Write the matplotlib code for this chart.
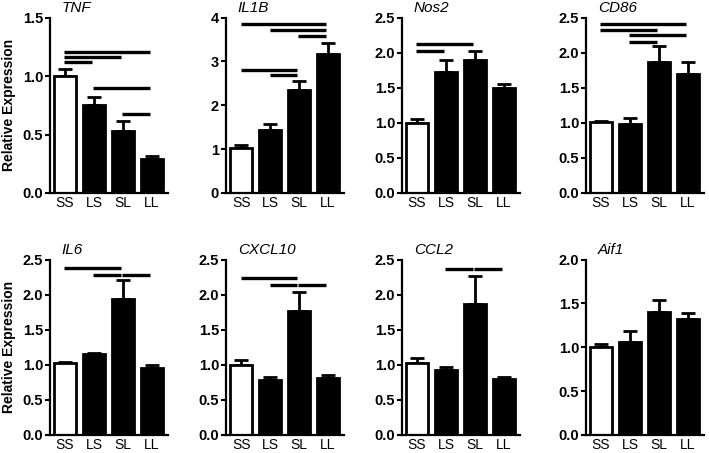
import matplotlib
matplotlib.use('Agg')
import matplotlib.pyplot as plt
import numpy

plt.rcParams['font.family'] = ['Liberation Sans', 'DejaVu Sans']

groups = ['SS', 'LS', 'SL', 'LL']
genes = ['TNF', 'IL1B', 'Nos2', 'CD86', 'IL6', 'CXCL10', 'CCL2', 'Aif1']

tnf_mean = [1.0, 0.75, 0.534, 0.294]
tnf_err = [0.06, 0.075, 0.086, 0.023]
il1b_mean = [1.03, 1.44, 2.34, 3.16]
il1b_err = [0.06, 0.14, 0.22, 0.27]
nos2_mean = [1.0, 1.72, 1.89, 1.49]
nos2_err = [0.05, 0.17, 0.13, 0.07]
cd86_mean = [1.01, 0.99, 1.87, 1.69]
cd86_err = [0.02, 0.08, 0.22, 0.18]
il6_mean = [1.02, 1.15, 1.94, 0.95]
il6_err = [0.02, 0.02, 0.27, 0.04]
cxcl10_mean = [1.0, 0.78, 1.76, 0.81]
cxcl10_err = [0.07, 0.04, 0.28, 0.05]
ccl2_mean = [1.02, 0.925, 1.86, 0.79]
ccl2_err = [0.08, 0.045, 0.41, 0.04]
aif1_mean = [1.0, 1.06, 1.40, 1.32]
aif1_err = [0.04, 0.12, 0.14, 0.065]

# significance bars: (from group, to group, height)
tnf_sig = [(0, 3, 1.206), (0, 2, 1.16), (0, 1, 1.117), (1, 3, 0.9), (2, 3, 0.674)]
il1b_sig = [(0, 3, 3.85), (1, 3, 3.71), (2, 3, 3.58), (0, 2, 2.81), (1, 2, 2.69)]
nos2_sig = [(0, 2, 2.13), (0, 1, 2.02)]
cd86_sig = [(0, 3, 2.41), (0, 2, 2.33), (1, 3, 2.25), (1, 2, 2.16)]
il6_sig = [(0, 2, 2.38), (1, 2, 2.28), (2, 3, 2.28)]
cxcl10_sig = [(0, 2, 2.24), (1, 2, 2.14), (2, 3, 2.14)]
ccl2_sig = [(1, 2, 2.36), (2, 3, 2.36)]
aif1_sig = []

means = [tnf_mean, il1b_mean, nos2_mean, cd86_mean, il6_mean, cxcl10_mean, ccl2_mean, aif1_mean]
errs = [tnf_err, il1b_err, nos2_err, cd86_err, il6_err, cxcl10_err, ccl2_err, aif1_err]
sigs = [tnf_sig, il1b_sig, nos2_sig, cd86_sig, il6_sig, cxcl10_sig, ccl2_sig, aif1_sig]
y_max = [1.5, 4, 2.5, 2.5, 2.5, 2.5, 2.5, 2.0]
y_step = [0.5, 1, 0.5, 0.5, 0.5, 0.5, 0.5, 0.5]

fig = plt.figure(figsize=(7.09, 4.53), dpi=100)
lefts = [0.0705, 0.3188, 0.567, 0.8265]
bottoms = [0.574, 0.040]
w = 0.1664
h = 0.387

x = numpy.arange(len(groups))
for k, gene in enumerate(genes):
    row = k // 4
    col = k % 4
    ax = fig.add_axes([lefts[col], bottoms[row], w, h])
    colors = ['white', 'black', 'black', 'black']
    ax.bar(x, means[k], width=0.76, color=colors, edgecolor='black', linewidth=2, zorder=2)
    ax.errorbar(x, means[k], yerr=[numpy.zeros(4), errs[k]], fmt='none', ecolor='black',
                elinewidth=2, capsize=5, capthick=2, zorder=1)
    for a, b, yy in sigs[k]:
        ax.plot([a - 0.02, b - 0.06], [yy, yy], color='black', lw=2.4, solid_capstyle='butt',
                clip_on=False)
    ax.set_xlim(-0.52, 3.55)
    ax.set_ylim(0, y_max[k])
    ticks = numpy.arange(0, y_max[k] + 1e-9, y_step[k])
    ax.set_yticks(ticks)
    if y_step[k] == 1:
        ax.set_yticklabels(['%d' % t for t in ticks])
    else:
        ax.set_yticklabels(['%.1f' % t for t in ticks])
    ax.set_xticks(x)
    ax.set_xticklabels(groups, fontsize=10)
    for lab in ax.get_yticklabels():
        lab.set_fontweight('bold')
        lab.set_fontsize(10.5)
    ax.tick_params(axis='x', length=0, pad=2.5)
    ax.tick_params(axis='y', length=3.5, width=1.5, pad=1.5)
    ax.spines['top'].set_visible(False)
    ax.spines['right'].set_visible(False)
    ax.spines['left'].set_linewidth(1.6)
    ax.spines['bottom'].set_linewidth(1.6)
    ax.text(0.1, 1.03, gene, transform=ax.transAxes, fontsize=11, style='italic',
            ha='left', va='baseline')
    if col == 0:
        ax.set_ylabel('Relative Expression', fontsize=10, fontweight='bold')
        ax.yaxis.set_label_coords(-0.29, 0.5)

fig.savefig('out.png', dpi=100)
